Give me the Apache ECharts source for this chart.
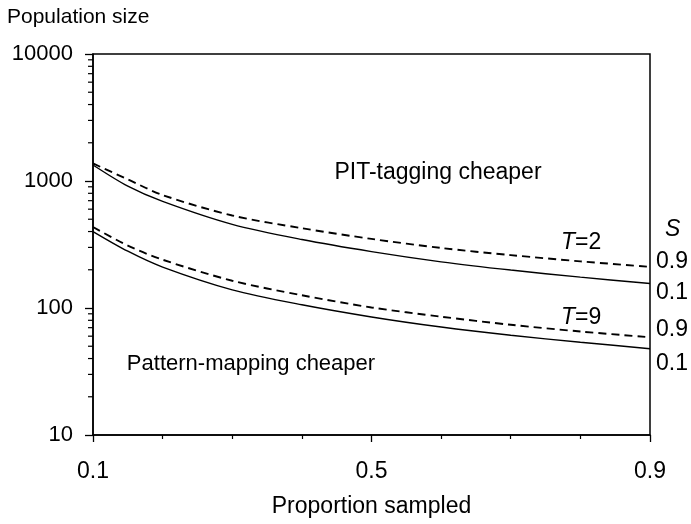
<!DOCTYPE html>
<html>
<head>
<meta charset="utf-8">
<script src="https://cdn.jsdelivr.net/npm/echarts@6/dist/echarts.min.js"></script>
<style>
html,body{margin:0;padding:0;background:#fff;}
#chart{width:691px;height:524px;}
</style>
</head>
<body>
<div id="chart"></div>
<script>
// ---- data ----
const proportion = [0.1, 0.15, 0.2, 0.3, 0.4, 0.5, 0.6, 0.7, 0.8, 0.9];
const t2s09 = [1374, 1030, 775, 535, 425, 350, 297, 261, 233, 211];
const t2s01 = [1336, 910, 690, 455, 346, 278, 231, 199, 175, 156];
const t9s09 = [434, 310, 240, 164, 126, 101, 85.4, 73.8, 65.3, 58.8];
const t9s01 = [400, 280, 210, 139, 106, 85, 70.8, 61, 53.8, 47.8];
const yMinorTicks = [20,30,40,50,60,70,80,90,200,300,400,500,600,700,800,900,2000,3000,4000,5000,6000,7000,8000,9000];
const xTickLabels = ['0.1', '0.5', '0.9'];
const sLabels = ['0.9', '0.1', '0.9', '0.1'];

const FONT = '"Liberation Sans", Arial, sans-serif';
const FS = 23;

function pairs(ys){ return proportion.map((x,i)=>[x, ys[i]]); }

const chart = echarts.init(document.getElementById('chart'), null, {renderer:'canvas'});

const lineBase = (name, ys, dashed) => ({
  name, type:'line', data:pairs(ys), smooth:0.3, symbol:'none', silent:true,
  lineStyle: dashed ? {color:'#000', width:1.9, type:[8,5]} : {color:'#000', width:1.4, type:'solid'},
  z:3
});

const textEl = (text, x, y, align, size) => ({
  type:'text', x, y, silent:true,
  style:{text, fill:'#000', fontSize:size||FS, fontFamily:FONT, align:align||'left', verticalAlign:'middle',
    rich:{i:{fontStyle:'italic', fontSize:size||FS, fontFamily:FONT, fill:'#000'}, n:{fontSize:size||FS, fontFamily:FONT, fill:'#000'}}}
});

chart.setOption({
  animation:false,
  backgroundColor:'#fff',
  grid:{left:93, right:41, top:54, bottom:89, show:true, borderColor:'#000', borderWidth:1.5, backgroundColor:'transparent'},
  xAxis:{
    type:'value', min:0.1, max:0.9, interval:0.4,
    name:'Proportion sampled', nameLocation:'middle', nameGap:60,
    nameTextStyle:{fontSize:FS, fontFamily:FONT, color:'#000'},
    axisLine:{lineStyle:{color:'#000', width:1.5}},
    axisTick:{show:true, length:7, lineStyle:{color:'#000', width:1.3}},
    minorTick:{show:true, splitNumber:4, length:4, lineStyle:{color:'#000', width:1.2}},
    splitLine:{show:false}, minorSplitLine:{show:false},
    axisLabel:{fontSize:FS, fontFamily:FONT, color:'#000', margin:25,
      formatter:(v)=>{ const s=v.toFixed(1); return xTickLabels.indexOf(s)>=0 ? s : ''; }}
  },
  yAxis:{
    type:'log', logBase:10, min:10, max:10000,
    axisLine:{show:true, lineStyle:{color:'#000', width:1.5}},
    axisTick:{show:true, length:8, lineStyle:{color:'#000', width:1.3}},
    minorTick:{show:false},
    splitLine:{show:false},
    axisLabel:{fontSize:22, fontFamily:FONT, color:'#000', margin:20, formatter:(v)=>String(Math.round(v))}
  },
  series:[
    lineBase('T2 S0.9', t2s09, true),
    lineBase('T2 S0.1', t2s01, false),
    lineBase('T9 S0.9', t9s09, true),
    lineBase('T9 S0.1', t9s01, false),
    {
      type:'custom', silent:true, clip:false, z:4,
      data: yMinorTicks.map(v=>[0.1, v]),
      encode:{x:0, y:1},
      renderItem:(params, api)=>{
        const p = api.coord([api.value(0), api.value(1)]);
        return {type:'line', shape:{x1:p[0]-5, y1:p[1], x2:p[0], y2:p[1]}, style:{stroke:'#000', lineWidth:1.2}};
      }
    }
  ],
  graphic:[
    textEl('Population size', 7, 17, 'left', 21),
    textEl('PIT-tagging cheaper', 438, 173, 'center', 23),
    textEl('Pattern-mapping cheaper', 251, 364, 'center', 22),
    textEl('{i|T}{n|=2}', 561, 243, 'left'),
    textEl('{i|T}{n|=9}', 561, 318, 'left'),
    textEl('{i|S}', 665, 230, 'left'),
    textEl(sLabels[0], 656, 262, 'left'),
    textEl(sLabels[1], 656, 293, 'left'),
    textEl(sLabels[2], 656, 330, 'left'),
    textEl(sLabels[3], 656, 364, 'left')
  ]
});
</script>
</body>
</html>
